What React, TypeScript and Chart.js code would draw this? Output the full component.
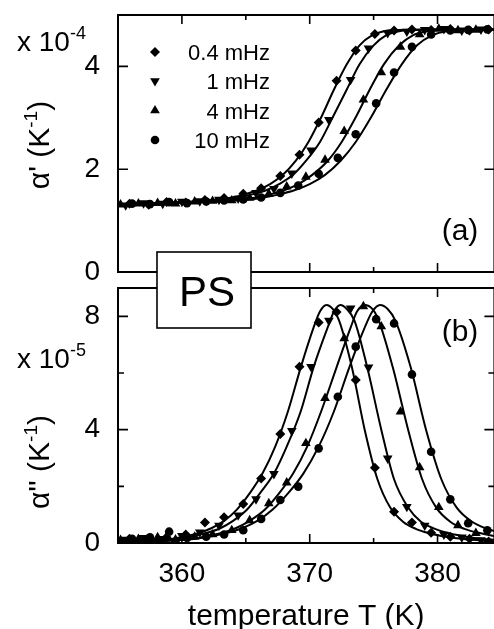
import React, { useEffect, useRef } from "react";
import { Chart, registerables } from "chart.js";

Chart.register(...registerables);

const FONT = "'Liberation Sans', Arial, Helvetica, sans-serif";

// ---------- axes ----------
const T_MIN = 355;
const T_MAX = 384.45;
const A_MAX = 5; // panel (a) frame top, x 1e-4 K^-1
const B_FRAME_MAX = 9; // panel (b) frame top, x 1e-5 K^-1
const B_AXIS_MAX = 9.565; // panel (b) scale top (includes the gap between panels)
const xTickLabels = [360, 370, 380];
const aTickLabels = [0, 2, 4];
const bTickLabels = [0, 4, 8];
const seriesLabels = ["0.4 mHz", "1 mHz", "4 mHz", "10 mHz"];

// ---------- fit curves, panel (a): alpha' ----------
const fitA_T_04 = [352.9, 354.9, 356.9, 358.9, 360.9, 361.9, 362.9, 363.9, 364.9, 365.9, 366.9, 367.9, 368.9, 369.9, 370.9, 371.9, 372.9, 373.9, 374.9, 375.9, 376.9, 378.9, 385.9];
const fitA_Y_04 = [1.31, 1.32, 1.33, 1.35, 1.37, 1.39, 1.41, 1.45, 1.51, 1.59, 1.71, 1.89, 2.16, 2.53, 3.01, 3.55, 4.04, 4.41, 4.61, 4.69, 4.71, 4.72, 4.72];
const fitA_T_1 = [352.9, 355.0, 357.1, 359.2, 361.3, 362.4, 363.4, 364.5, 365.5, 366.6, 367.6, 368.7, 369.7, 370.8, 371.8, 372.9, 373.9, 375.0, 376.0, 377.1, 378.1, 380.2, 387.6];
const fitA_Y_1 = [1.31, 1.32, 1.33, 1.35, 1.37, 1.39, 1.41, 1.45, 1.51, 1.59, 1.71, 1.89, 2.16, 2.53, 3.01, 3.55, 4.04, 4.41, 4.61, 4.69, 4.71, 4.72, 4.72];
const fitA_T_4 = [353.4, 355.7, 357.9, 360.2, 362.4, 363.5, 364.6, 365.8, 366.9, 368.0, 369.1, 370.2, 371.4, 372.5, 373.6, 374.7, 375.8, 377.0, 378.1, 379.2, 380.3, 382.6, 390.4];
const fitA_Y_4 = [1.31, 1.32, 1.33, 1.35, 1.37, 1.39, 1.41, 1.45, 1.51, 1.59, 1.71, 1.89, 2.16, 2.53, 3.01, 3.55, 4.04, 4.41, 4.61, 4.69, 4.71, 4.72, 4.72];
const fitA_T_10 = [353.2, 355.6, 358.0, 360.4, 362.8, 364.0, 365.2, 366.4, 367.6, 368.8, 370.0, 371.2, 372.4, 373.6, 374.8, 376.0, 377.2, 378.4, 379.6, 380.8, 382.0, 384.4, 392.8];
const fitA_Y_10 = [1.31, 1.32, 1.33, 1.35, 1.37, 1.39, 1.41, 1.45, 1.51, 1.59, 1.71, 1.89, 2.16, 2.53, 3.01, 3.55, 4.04, 4.41, 4.61, 4.69, 4.71, 4.72, 4.72];

// ---------- fit curves, panel (b): alpha'' ----------
const fitB_T_04 = [353.3, 355.3, 357.3, 359.3, 361.3, 362.3, 363.3, 364.3, 365.3, 366.3, 367.3, 368.3, 369.3, 370.3, 370.8, 371.3, 371.8, 372.3, 373.3, 374.3, 375.3, 376.3, 377.3, 378.3, 379.3, 380.3, 381.3, 383.3, 385.3];
const fitB_Y_04 = [0.03, 0.05, 0.08, 0.15, 0.35, 0.52, 0.78, 1.18, 1.75, 2.45, 3.4, 4.65, 6.2, 7.6, 8.17, 8.4, 8.26, 7.85, 6.2, 4.0, 2.25, 1.25, 0.75, 0.5, 0.35, 0.25, 0.18, 0.1, 0.06];
const fitB_T_1 = [353.5, 355.6, 357.7, 359.8, 361.9, 363.0, 364.0, 365.1, 366.1, 367.2, 368.2, 369.3, 370.3, 371.4, 371.9, 372.4, 372.9, 373.5, 374.5, 375.6, 376.6, 377.7, 378.7, 379.8, 380.8, 381.9, 382.9, 385.0, 387.1];
const fitB_Y_1 = [0.03, 0.05, 0.08, 0.15, 0.35, 0.52, 0.78, 1.18, 1.75, 2.45, 3.4, 4.65, 6.2, 7.6, 8.17, 8.4, 8.26, 7.85, 6.2, 4.0, 2.25, 1.25, 0.75, 0.5, 0.35, 0.25, 0.18, 0.1, 0.06];
const fitB_T_4 = [354.1, 356.4, 358.6, 360.9, 363.1, 364.2, 365.3, 366.5, 367.6, 368.7, 369.8, 370.9, 372.1, 373.2, 373.7, 374.3, 374.9, 375.4, 376.5, 377.7, 378.8, 379.9, 381.0, 382.1, 383.3, 384.4, 385.5, 387.7, 390.0];
const fitB_Y_4 = [0.03, 0.05, 0.08, 0.15, 0.35, 0.52, 0.78, 1.18, 1.75, 2.45, 3.4, 4.65, 6.2, 7.6, 8.17, 8.4, 8.26, 7.85, 6.2, 4.0, 2.25, 1.25, 0.75, 0.5, 0.35, 0.25, 0.18, 0.1, 0.06];
const fitB_T_10 = [353.9, 356.3, 358.7, 361.1, 363.5, 364.7, 365.9, 367.1, 368.3, 369.5, 370.7, 371.9, 373.1, 374.3, 374.9, 375.5, 376.1, 376.7, 377.9, 379.1, 380.3, 381.5, 382.7, 383.9, 385.1, 386.3, 387.5, 389.9, 392.3];
const fitB_Y_10 = [0.03, 0.05, 0.08, 0.15, 0.35, 0.52, 0.78, 1.18, 1.75, 2.45, 3.4, 4.65, 6.2, 7.6, 8.17, 8.4, 8.26, 7.85, 6.2, 4.0, 2.25, 1.25, 0.75, 0.5, 0.35, 0.25, 0.18, 0.1, 0.06];

// ---------- measured points ----------
const pts_T_04 = [355.9, 357.4, 358.8, 360.3, 361.8, 363.3, 364.8, 366.2, 367.7, 369.2, 370.7, 372.1, 373.6, 375.1, 376.6, 378.0, 379.5, 381.0, 382.5, 384.0];
const pts_A_04 = [1.33, 1.31, 1.36, 1.35, 1.4, 1.44, 1.52, 1.63, 1.87, 2.28, 2.91, 3.72, 4.31, 4.63, 4.7, 4.72, 4.71, 4.73, 4.7, 4.72];
const pts_B_04 = [0.15, 0.14, 0.2, 0.3, 0.72, 0.91, 1.38, 2.28, 3.85, 6.22, 7.78, 8.15, 5.75, 2.66, 1.1, 0.72, 0.36, 0.22, 0.15, 0.05];

const pts_T_1 = [355.6, 357.0, 358.5, 360.0, 361.4, 362.9, 364.4, 365.8, 367.2, 368.6, 370.1, 371.5, 373.2, 374.6, 376.1, 377.6, 379.0, 380.5, 381.9, 383.4];
const pts_A_1 = [1.3, 1.34, 1.33, 1.37, 1.38, 1.41, 1.43, 1.54, 1.62, 1.92, 2.37, 2.96, 3.74, 4.35, 4.65, 4.68, 4.71, 4.73, 4.7, 4.72];
const pts_B_1 = [0.12, 0.18, 0.15, 0.25, 0.38, 0.62, 0.98, 1.55, 2.44, 3.96, 6.22, 7.85, 8.28, 6.2, 2.99, 1.28, 0.62, 0.3, 0.2, 0.1];

const pts_T_4 = [355.2, 356.6, 358.1, 359.5, 361.0, 362.4, 363.9, 365.3, 366.8, 368.2, 369.7, 371.2, 372.7, 374.2, 375.6, 377.1, 378.6, 380.1, 381.6, 383.0];
const pts_A_4 = [1.31, 1.33, 1.34, 1.33, 1.37, 1.38, 1.39, 1.44, 1.52, 1.66, 1.85, 2.18, 2.74, 3.35, 3.88, 4.38, 4.62, 4.73, 4.7, 4.71];
const pts_B_4 = [0.1, 0.14, 0.2, 0.12, 0.22, 0.3, 0.45, 0.8, 1.4, 2.13, 3.52, 5.11, 7.22, 8.35, 7.64, 4.63, 2.67, 1.26, 0.62, 0.35];

const pts_T_10 = [356.1, 357.5, 359.0, 360.4, 361.9, 363.3, 364.8, 366.2, 367.7, 369.1, 370.7, 372.2, 373.6, 375.2, 376.6, 378.0, 379.5, 381.0, 382.4, 383.9];
const pts_A_10 = [1.33, 1.32, 1.36, 1.34, 1.37, 1.39, 1.41, 1.45, 1.54, 1.68, 1.91, 2.22, 2.68, 3.28, 3.88, 4.38, 4.62, 4.7, 4.71, 4.72];
const pts_B_10 = [0.15, 0.2, 0.4, 0.18, 0.22, 0.3, 0.45, 0.85, 1.52, 1.99, 3.34, 5.16, 6.93, 7.9, 7.75, 5.95, 3.22, 1.54, 0.7, 0.45];

// ---------- series table ----------
const series = [
  { fitAT: fitA_T_04, fitAY: fitA_Y_04, fitBT: fitB_T_04, fitBY: fitB_Y_04, ptT: pts_T_04, ptA: pts_A_04, ptB: pts_B_04, style: "rectRot", rot: 0, r: 5 },
  { fitAT: fitA_T_1, fitAY: fitA_Y_1, fitBT: fitB_T_1, fitBY: fitB_Y_1, ptT: pts_T_1, ptA: pts_A_1, ptB: pts_B_1, style: "triangle", rot: 180, r: 5.6 },
  { fitAT: fitA_T_4, fitAY: fitA_Y_4, fitBT: fitB_T_4, fitBY: fitB_Y_4, ptT: pts_T_4, ptA: pts_A_4, ptB: pts_B_4, style: "triangle", rot: 0, r: 5.6 },
  { fitAT: fitA_T_10, fitAY: fitA_Y_10, fitBT: fitB_T_10, fitBY: fitB_Y_10, ptT: pts_T_10, ptA: pts_A_10, ptB: pts_B_10, style: "circle", rot: 0, r: 4.3 },
];

const zip = (xs: number[], ys: number[]) => xs.map((x, i) => ({ x, y: ys[i] }));

function buildDatasets() {
  const ds: any[] = [];
  series.forEach((s) => {
    const line = {
      showLine: true,
      borderColor: "#000",
      borderWidth: 2,
      pointRadius: 0,
      cubicInterpolationMode: "monotone",
      fill: false,
    };
    ds.push({ ...line, data: zip(s.fitAT, s.fitAY), yAxisID: "ya" });
    ds.push({ ...line, data: zip(s.fitBT, s.fitBY), yAxisID: "yb" });
    const pts = {
      showLine: false,
      pointStyle: s.style,
      pointRotation: s.rot,
      pointRadius: s.r,
      backgroundColor: "#000",
      borderColor: "#000",
      borderWidth: 0,
    };
    ds.push({ ...pts, data: zip(s.ptT, s.ptA), yAxisID: "ya" });
    ds.push({ ...pts, data: zip(s.ptT, s.ptB), yAxisID: "yb" });
  });
  return ds;
}

type Part = { text: string; size: number; dy?: number };

function richText(ctx: CanvasRenderingContext2D, parts: Part[], x: number, y: number, align: string) {
  const widths = parts.map((p) => {
    ctx.font = `${p.size}px ${FONT}`;
    return ctx.measureText(p.text).width;
  });
  const total = widths.reduce((a, b) => a + b, 0);
  let cx = align === "center" ? x - total / 2 : align === "right" ? x - total : x;
  ctx.textAlign = "left";
  ctx.textBaseline = "alphabetic";
  parts.forEach((p, i) => {
    ctx.font = `${p.size}px ${FONT}`;
    ctx.fillText(p.text, cx, y + (p.dy || 0));
    cx += widths[i];
  });
}

function drawSymbol(ctx: CanvasRenderingContext2D, style: string, rot: number, r: number, x: number, y: number) {
  ctx.beginPath();
  if (style === "circle") {
    ctx.arc(x, y, r, 0, Math.PI * 2);
  } else if (style === "rectRot") {
    ctx.moveTo(x - r, y);
    ctx.lineTo(x, y - r);
    ctx.lineTo(x + r, y);
    ctx.lineTo(x, y + r);
    ctx.closePath();
  } else {
    const s = rot === 180 ? -1 : 1;
    for (let k = 0; k < 3; k++) {
      const a = (k * 2 * Math.PI) / 3;
      const px = x + Math.sin(a) * r;
      const py = y - s * Math.cos(a) * r;
      if (k === 0) ctx.moveTo(px, py);
      else ctx.lineTo(px, py);
    }
    ctx.closePath();
  }
  ctx.fill();
}

const noPad = (s: any) => {
  s.paddingTop = 0;
  s.paddingBottom = 0;
};

const framePlugin = {
  id: "frame",
  afterDatasetsDraw(chart: any) {
    const { ctx, chartArea } = chart;
    const x = chart.scales.x;
    const ya = chart.scales.ya;
    const yb = chart.scales.yb;
    const L = chartArea.left;
    const R = chartArea.right;
    const aTop = ya.getPixelForValue(A_MAX);
    const aBot = ya.getPixelForValue(0);
    const bTop = yb.getPixelForValue(B_FRAME_MAX);
    const bBot = yb.getPixelForValue(0);
    ctx.save();
    ctx.strokeStyle = "#000";
    ctx.lineWidth = 2;
    ctx.strokeRect(L, aTop, R - L, aBot - aTop);
    ctx.strokeRect(L, bTop, R - L, bBot - bTop);
    ctx.lineWidth = 1.6;
    ctx.beginPath();
    x.ticks.forEach((t: any) => {
      const px = x.getPixelForValue(t.value);
      const len = t.value % 10 === 0 ? 9 : 5;
      [
        [aTop, 1],
        [aBot, -1],
        [bTop, 1],
        [bBot, -1],
      ].forEach(([yy, d]) => {
        ctx.moveTo(px, yy);
        ctx.lineTo(px, yy + d * len);
      });
    });
    ya.ticks.forEach((t: any) => {
      const py = ya.getPixelForValue(t.value);
      const len = t.value % 2 === 0 ? 10 : 6;
      ctx.moveTo(L, py);
      ctx.lineTo(L + len, py);
      ctx.moveTo(R, py);
      ctx.lineTo(R - len, py);
    });
    yb.ticks.forEach((t: any) => {
      const py = yb.getPixelForValue(t.value);
      const len = t.value % 4 === 0 ? 10 : 6;
      ctx.moveTo(L, py);
      ctx.lineTo(L + len, py);
      ctx.moveTo(R, py);
      ctx.lineTo(R - len, py);
    });
    ctx.stroke();
    ctx.restore();
  },
  afterDraw(chart: any) {
    const { ctx } = chart;
    ctx.save();
    ctx.fillStyle = "#000";

    // scale multipliers
    richText(ctx, [{ text: "x 10", size: 28 }, { text: "-4", size: 18, dy: -12 }], 17, 51, "left");
    richText(ctx, [{ text: "x 10", size: 28 }, { text: "-5", size: 18, dy: -12 }], 17, 368, "left");

    // y titles
    ctx.save();
    ctx.translate(49, 145);
    ctx.rotate(-Math.PI / 2);
    richText(ctx, [{ text: "\u03b1' (K", size: 30 }, { text: "-1", size: 19, dy: -12 }, { text: ")", size: 30 }], 0, 0, "center");
    ctx.restore();
    ctx.save();
    ctx.translate(49, 462);
    ctx.rotate(-Math.PI / 2);
    richText(ctx, [{ text: "\u03b1'' (K", size: 30 }, { text: "-1", size: 19, dy: -12 }, { text: ")", size: 30 }], 0, 0, "center");
    ctx.restore();

    // panel labels
    richText(ctx, [{ text: "(a)", size: 30 }], 460, 240, "center");
    richText(ctx, [{ text: "(b)", size: 30 }], 460, 341, "center");

    // legend
    const rowY = [52, 81, 110.5, 140];
    series.forEach((s, i) => {
      drawSymbol(ctx, s.style, s.rot, s.r, 155, rowY[i]);
      richText(ctx, [{ text: seriesLabels[i], size: 22 }], 270, rowY[i] + 8, "right");
    });

    // PS box
    ctx.fillStyle = "#fff";
    ctx.fillRect(157, 252, 94, 76);
    ctx.strokeStyle = "#000";
    ctx.lineWidth = 1.6;
    ctx.strokeRect(157, 252, 94, 76);
    ctx.fillStyle = "#000";
    richText(ctx, [{ text: "PS", size: 42 }], 207, 306, "center");
    ctx.restore();
  },
};

export default function App() {
  const ref = useRef<HTMLCanvasElement>(null);
  useEffect(() => {
    const chart = new Chart(ref.current as HTMLCanvasElement, {
      type: "scatter",
      data: { datasets: buildDatasets() },
      options: {
        animation: false,
        responsive: false,
        devicePixelRatio: 1,
        events: [],
        layout: { padding: { left: 0, top: 15, right: 3, bottom: 0 } },
        plugins: { legend: { display: false }, tooltip: { enabled: false } },
        scales: {
          x: {
            type: "linear",
            position: "bottom",
            min: T_MIN,
            max: T_MAX,
            grid: { display: false },
            border: { display: false },
            ticks: {
              stepSize: 5,
              includeBounds: false,
              autoSkip: false,
              maxRotation: 0,
              color: "#000",
              padding: 6,
              font: { family: FONT, size: 28 },
              callback: (v: any) => (xTickLabels.includes(Number(v)) ? String(v) : ""),
            },
            title: {
              display: true,
              text: "temperature T (K)",
              color: "#000",
              font: { family: FONT, size: 30 },
              padding: { top: 0, bottom: -6 },
            },
            afterFit: (s: any) => {
              s.height = 86;
              s.paddingLeft = 0;
              s.paddingRight = 0;
            },
          },
          ya: {
            type: "linear",
            position: "left",
            stack: "panels",
            stackWeight: 257,
            weight: 1,
            min: 0,
            max: A_MAX,
            grid: { display: false },
            border: { display: false },
            ticks: {
              stepSize: 1,
              color: "#000",
              padding: 10,
              font: { family: FONT, size: 28 },
              callback: (v: any) => (aTickLabels.includes(Number(v)) ? String(v) : ""),
            },
            afterFit: (s: any) => {
              s.width = 118;
              noPad(s);
            },
          },
          yb: {
            type: "linear",
            position: "left",
            stack: "panels",
            stackWeight: 271,
            weight: 0,
            min: 0,
            max: B_AXIS_MAX,
            grid: { display: false },
            border: { display: false },
            ticks: {
              stepSize: 2,
              includeBounds: false,
              color: "#000",
              padding: 10,
              font: { family: FONT, size: 28 },
              callback: (v: any) => (bTickLabels.includes(Number(v)) ? String(v) : ""),
            },
            afterFit: (s: any) => {
              s.width = 118;
              noPad(s);
            },
          },
        },
      } as any,
      plugins: [framePlugin],
    });
    return () => chart.destroy();
  }, []);
  return (
    <div style={{ position: "fixed", left: 0, top: 0, width: 494, height: 629, overflow: "hidden", background: "#fff" }}>
      <canvas ref={ref} width={500} height={629} style={{ display: "block", width: 500, height: 629 }} />
    </div>
  );
}
